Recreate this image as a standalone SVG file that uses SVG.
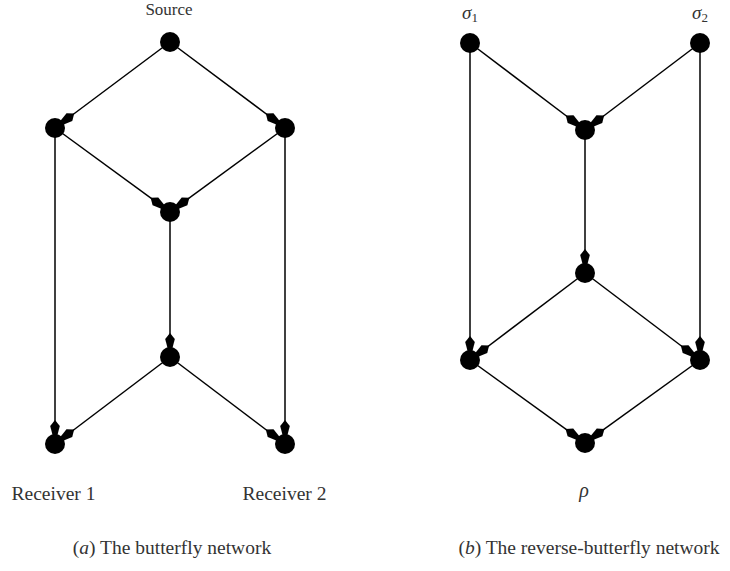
<svg xmlns="http://www.w3.org/2000/svg" width="730" height="571" viewBox="0 0 730 571">
<defs>
<style>
.e{stroke:#000;stroke-width:1.5;fill:none;marker-end:url(#ah)}
.n{fill:#000}
.t{font-family:"Liberation Serif","DejaVu Serif",serif;fill:#333}
</style>
<marker id="ah" markerUnits="userSpaceOnUse" orient="auto" markerWidth="20" markerHeight="14" viewBox="-16 -7 20 14" refX="0" refY="0" overflow="visible">
<path d="M1,-2.5 L-8,-4.8 L-14,0 L-8,4.8 L1,2.5 z" fill="#000"/>
</marker>
</defs>
<rect width="730" height="571" fill="#fff"/>
<g id="connectors">
<line class="e" x1="170" y1="42" x2="63" y2="122"/>
<line class="e" x1="170" y1="42" x2="277" y2="122"/>
<line class="e" x1="55" y1="128" x2="161.9" y2="206.1"/>
<line class="e" x1="285" y1="128" x2="178.1" y2="206.1"/>
<line class="e" x1="55" y1="128" x2="55" y2="434"/>
<line class="e" x1="285" y1="128" x2="285" y2="434"/>
<line class="e" x1="170" y1="212" x2="170" y2="347"/>
<line class="e" x1="170" y1="357" x2="63" y2="438"/>
<line class="e" x1="170" y1="357" x2="277" y2="438"/>
<line class="e" x1="470" y1="43" x2="577" y2="124"/>
<line class="e" x1="700" y1="43" x2="593" y2="124"/>
<line class="e" x1="470" y1="43" x2="470" y2="350"/>
<line class="e" x1="700" y1="43" x2="700" y2="350"/>
<line class="e" x1="585" y1="130" x2="585" y2="263"/>
<line class="e" x1="585" y1="273" x2="478" y2="354"/>
<line class="e" x1="585" y1="273" x2="692" y2="354"/>
<line class="e" x1="470" y1="360" x2="576.9" y2="437.1"/>
<line class="e" x1="700" y1="360" x2="593.1" y2="437.1"/>
</g>
<g id="source"><circle class="n" cx="170" cy="42" r="10"/><text class="t" x="169" y="15" font-size="17" text-anchor="middle">Source</text></g>
<g id="a1"><circle class="n" cx="55" cy="128" r="10"/></g>
<g id="a2"><circle class="n" cx="285" cy="128" r="10"/></g>
<g id="a3"><circle class="n" cx="170" cy="212" r="10"/></g>
<g id="a4"><circle class="n" cx="170" cy="357" r="10"/></g>
<g id="receiver1"><circle class="n" cx="55" cy="444" r="10"/><text class="t" x="53.5" y="500" font-size="19.5" text-anchor="middle">Receiver 1</text></g>
<g id="receiver2"><circle class="n" cx="285" cy="444" r="10"/><text class="t" x="284.5" y="500" font-size="19.5" text-anchor="middle">Receiver 2</text></g>
<g id="sigma1"><circle class="n" cx="470" cy="43" r="10"/><text class="t" x="462" y="19" font-size="19" font-style="italic">σ<tspan font-size="13" font-style="normal" dy="3">1</tspan></text></g>
<g id="sigma2"><circle class="n" cx="700" cy="43" r="10"/><text class="t" x="692" y="19" font-size="19" font-style="italic">σ<tspan font-size="13" font-style="normal" dy="3">2</tspan></text></g>
<g id="b1"><circle class="n" cx="585" cy="130" r="10"/></g>
<g id="b2"><circle class="n" cx="585" cy="273" r="10"/></g>
<g id="b3"><circle class="n" cx="470" cy="360" r="10"/></g>
<g id="b4"><circle class="n" cx="700" cy="360" r="10"/></g>
<g id="rho"><circle class="n" cx="585" cy="443" r="10"/><text class="t" x="584" y="497" font-size="20" font-style="italic" text-anchor="middle">ρ</text></g>
<text class="t" x="172" y="554" font-size="19.5" text-anchor="middle">(<tspan font-style="italic">a</tspan>) The butterfly network</text>
<text class="t" x="589" y="554" font-size="19.5" text-anchor="middle">(<tspan font-style="italic">b</tspan>) The reverse-butterfly network</text>
</svg>
